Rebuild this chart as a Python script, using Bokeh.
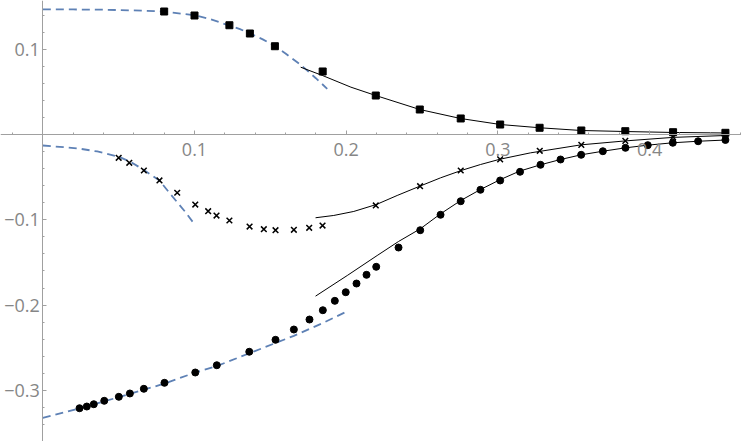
from bokeh.plotting import figure
from bokeh.models import Range1d, FixedTicker
from bokeh.embed import file_html
from bokeh.resources import INLINE

# ---- data ----
sq_x = [0.080, 0.100, 0.123, 0.1365, 0.153, 0.1845, 0.2195, 0.2485, 0.2755, 0.3015, 0.3275, 0.355, 0.384, 0.4155, 0.450]
sq_y = [0.1442, 0.1395, 0.1281, 0.1184, 0.1035, 0.0739, 0.0457, 0.0293, 0.0188, 0.0117, 0.0079, 0.0047, 0.0039, 0.0027, 0.0020]

cr_x = [0.050, 0.057, 0.0666, 0.0769, 0.0886, 0.1005, 0.109, 0.1145, 0.123, 0.1363, 0.1457, 0.1534, 0.1655, 0.1756, 0.1844,
        0.2195, 0.2487, 0.2755, 0.3015, 0.3276, 0.355, 0.384, 0.4155, 0.450]
cr_y = [-0.0273, -0.0332, -0.0422, -0.0539, -0.0683, -0.0821, -0.0899, -0.0950, -0.1008, -0.1079, -0.1110, -0.1122, -0.1117, -0.1094, -0.1067,
        -0.0832, -0.0606, -0.0422, -0.0291, -0.0191, -0.0121, -0.0075, -0.0032, -0.0008]

ci_x = [0.0242, 0.029, 0.0336, 0.0405, 0.0501, 0.0574, 0.0666, 0.0802, 0.1005, 0.1147, 0.1361, 0.1534, 0.1655, 0.1758, 0.1846,
        0.1925, 0.1997, 0.2068, 0.2134, 0.2198, 0.2345, 0.2488, 0.2622, 0.2755, 0.2885, 0.3015, 0.3146, 0.3281, 0.3413, 0.3549,
        0.3692, 0.3841, 0.3988, 0.4153, 0.432, 0.450]
ci_y = [-0.3209, -0.3189, -0.3162, -0.3122, -0.3075, -0.3036, -0.2981, -0.2911, -0.2790, -0.2705, -0.2547, -0.2407, -0.2286, -0.2169, -0.2060,
        -0.1950, -0.1849, -0.1747, -0.1645, -0.1551, -0.1325, -0.1122, -0.0941, -0.0782, -0.0648, -0.0539, -0.0437, -0.0355, -0.0293, -0.0238,
        -0.0196, -0.0156, -0.0125, -0.0097, -0.0079, -0.0064]

# solid black fits
sq_fit_x = [0.170, 0.1846, 0.2031, 0.2195, 0.2485, 0.2753, 0.3017, 0.3276, 0.3549, 0.3841, 0.4153, 0.4498]
sq_fit_y = [0.0789, 0.0690, 0.0555, 0.0457, 0.0293, 0.0188, 0.0117, 0.0079, 0.0047, 0.0035, 0.0024, 0.0018]

cr_fit_x = [0.1798, 0.1918, 0.2050, 0.2200, 0.2336, 0.2485, 0.2622, 0.2758, 0.2885, 0.3013, 0.3215, 0.3549, 0.3841, 0.4153, 0.4498]
cr_fit_y = [-0.0976, -0.0949, -0.0902, -0.0820, -0.0715, -0.0606, -0.0508, -0.0422, -0.0352, -0.0290, -0.0215, -0.0121, -0.0075, -0.0034, -0.0012]

ci_fit_x = [0.1798, 0.2007, 0.2204, 0.2345, 0.2488, 0.2622, 0.2755, 0.2885, 0.3013, 0.3142, 0.3281, 0.3413, 0.3549, 0.3692,
            0.3841, 0.3988, 0.4153, 0.432, 0.4498]
ci_fit_y = [-0.1895, -0.1653, -0.1419, -0.1254, -0.1106, -0.0930, -0.0774, -0.0645, -0.0531, -0.0430, -0.0355, -0.0293, -0.0238, -0.0196,
            -0.0156, -0.0125, -0.0097, -0.0079, -0.0065]

# dashed blue approximations
sq_dash_x = [0.0, 0.02, 0.04, 0.06, 0.08, 0.10, 0.11, 0.12, 0.13, 0.137, 0.145, 0.153, 0.16, 0.17, 0.18, 0.1875]
sq_dash_y = [0.1466, 0.1466, 0.1463, 0.1455, 0.1442, 0.1398, 0.1355, 0.1295, 0.1235, 0.1182, 0.1115, 0.1035, 0.0950, 0.0817, 0.0660, 0.0536]

cr_dash_x = [0.0, 0.0138, 0.0249, 0.0359, 0.0501, 0.0578, 0.0666, 0.0769, 0.0831, 0.0886, 0.0941, 0.0995]
cr_dash_y = [-0.0129, -0.0149, -0.0168, -0.0199, -0.0260, -0.0320, -0.0415, -0.0539, -0.0676, -0.0794, -0.0911, -0.1040]

ci_dash_x = [0.0, 0.0242, 0.050, 0.0802, 0.1005, 0.1147, 0.1361, 0.1534, 0.1655, 0.1846, 0.1995]
ci_dash_y = [-0.3322, -0.3210, -0.3080, -0.2920, -0.2790, -0.2715, -0.2565, -0.2445, -0.2360, -0.2210, -0.2083]

x_ticks = [0.1, 0.2, 0.3, 0.4]
x_labels = ["0.1", "0.2", "0.3", "0.4"]
y_ticks = [-0.3, -0.2, -0.1, 0.1]
y_labels = ["\u22120.3", "\u22120.2", "\u22120.1", "0.1"]
x_minor = [round(-0.02 + 0.02 * i, 2) for i in range(25)]
y_minor = [round(-0.36 + 0.02 * i, 2) for i in range(26)]

BLUE = "#5E81B5"
AXIS = "#a0a0a0"
LABEL = "#868686"

p = figure(width=741, height=441, output_backend="svg", toolbar_location=None,
           x_range=Range1d(-0.0279, 0.4606), y_range=Range1d(-0.3599, 0.1571),
           min_border=0, min_border_left=0, min_border_right=0, min_border_top=0, min_border_bottom=0)
p.outline_line_color = None
p.grid.visible = False
p.background_fill_color = "white"

for ax in (p.xaxis[0], p.yaxis[0]):
    ax.fixed_location = 0
    ax.axis_line_color = AXIS
    ax.axis_line_width = 1
    ax.major_tick_line_color = AXIS
    ax.minor_tick_line_color = AXIS
    ax.major_tick_in = 4
    ax.major_tick_out = 0
    ax.minor_tick_in = 2
    ax.minor_tick_out = 0
    ax.major_label_text_color = LABEL
    ax.major_label_text_font = "Open Sans"
    ax.major_label_text_font_size = "18px"

p.xaxis[0].ticker = FixedTicker(ticks=x_ticks, minor_ticks=x_minor)
p.yaxis[0].ticker = FixedTicker(ticks=y_ticks, minor_ticks=y_minor)
p.xaxis[0].major_label_overrides = dict(zip(x_ticks, x_labels))
p.yaxis[0].major_label_overrides = dict(zip(y_ticks, y_labels))
p.xaxis[0].major_label_standoff = 8
p.yaxis[0].major_label_standoff = 3

# dashed
p.line(sq_dash_x, sq_dash_y, line_color=BLUE, line_width=1.8, line_dash="8 5")
p.line(cr_dash_x, cr_dash_y, line_color=BLUE, line_width=1.8, line_dash="8 5")
p.line(ci_dash_x, ci_dash_y, line_color=BLUE, line_width=1.8, line_dash="8 5")

# solid fits
p.line(sq_fit_x, sq_fit_y, line_color="black", line_width=1)
p.line(cr_fit_x, cr_fit_y, line_color="black", line_width=1)
p.line(ci_fit_x, ci_fit_y, line_color="black", line_width=1)

# markers
p.scatter(sq_x, sq_y, marker="square", size=7, fill_color="black", line_color="black")
p.scatter(cr_x, cr_y, marker="x", size=8, line_color="black", line_width=1.5)
p.scatter(ci_x, ci_y, marker="circle", size=7, fill_color="black", line_color="black")

open("out.html", "w").write(file_html(p, INLINE))
